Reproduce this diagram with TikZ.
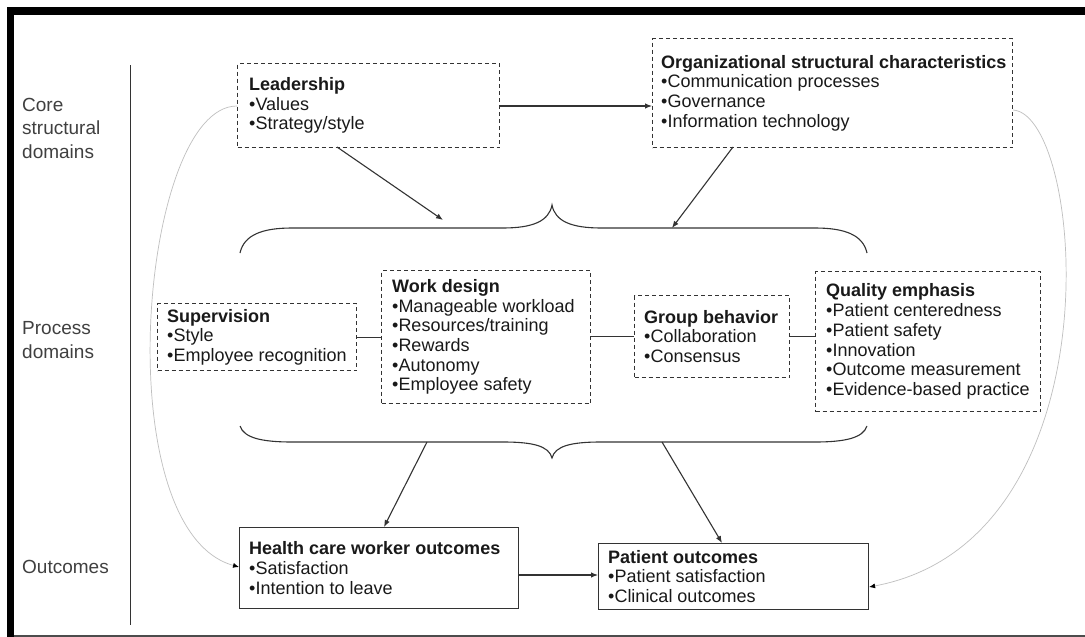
\documentclass[tikz,border=0pt]{standalone}
\usepackage{fontspec}
\setmainfont{Liberation Sans}
\usetikzlibrary{arrows.meta}
\begin{document}
\begin{tikzpicture}[x=1pt,y=-1pt,
  dbox/.style={draw=black!80, line width=1.1pt, dash pattern=on 4pt off 3pt, inner sep=0pt, anchor=north west},
  sbox/.style={dbox, solid},
  txt/.style={anchor=west, align=left, inner sep=0pt, text=black!90, font=\fontsize{18}{19.7}\selectfont},
  lbl/.style={anchor=west, align=left, text=black!75, font=\fontsize{19}{23.5}\selectfont, inner sep=0pt},
  conn/.style={draw=black!80, line width=1.1pt},
  arr/.style={conn, -{Latex[length=7pt,width=5.5pt]}},
  garr/.style={draw=black!25, line width=0.7pt, -{Latex[length=6pt,width=5pt,black]}}
]
\useasboundingbox (0,0) rectangle (1085,637);
\fill[white] (0,0) rectangle (1085,637);
% frame
\fill[black] (7,7) rectangle (1085,15);
\fill[black] (7,7) rectangle (14,637);
\draw[black!70, line width=1.5pt] (14,636) -- (1085,636);
% left labels
\node[lbl] (lcore) at (22,128) {Core\\structural\\domains};
\node[lbl] (lproc) at (22,340) {Process\\domains};
\node[lbl] (lout) at (22,567) {Outcomes};
\coordinate (vtop) at (130,65);
\coordinate (vbot) at (130,625);
\draw[black!80, line width=1pt] (vtop) -- (vbot);
% core boxes
\node[dbox, minimum width=262pt, minimum height=84pt] (lead) at (237,63) {};
\node[txt] (leadt) at ([xshift=12pt]lead.west) {\textbf{Leadership}\\•Values\\•Strategy/style};
\node[dbox, minimum width=360pt, minimum height=109pt] (org) at (652,38) {};
\node[txt] (orgt) at ([xshift=9pt]org.west) {\textbf{Organizational structural characteristics}\\•Communication processes\\•Governance\\•Information technology};
% process boxes
\node[dbox, minimum width=199pt, minimum height=67pt] (sup) at (157,303) {};
\node[txt] (supt) at ([xshift=10pt]sup.west) {\textbf{Supervision}\\•Style\\•Employee recognition};
\node[dbox, minimum width=209pt, minimum height=133pt] (work) at (381,270) {};
\node[txt] (workt) at ([xshift=11pt]work.west) {\textbf{Work design}\\•Manageable workload\\•Resources/training\\•Rewards\\•Autonomy\\•Employee safety};
\node[dbox, minimum width=155pt, minimum height=82pt] (group) at (634,295) {};
\node[txt] (groupt) at ([xshift=10pt]group.west) {\textbf{Group behavior}\\•Collaboration\\•Consensus};
\node[dbox, minimum width=225pt, minimum height=140pt] (qual) at (815,271) {};
\node[txt] (qualt) at ([xshift=11pt]qual.west) {\textbf{Quality emphasis}\\•Patient centeredness\\•Patient safety\\•Innovation\\•Outcome measurement\\•Evidence-based practice};
% outcome boxes
\node[sbox, minimum width=279pt, minimum height=81pt] (hcw) at (239,527) {};
\node[txt] (hcwt) at ([xshift=10pt]hcw.west) {\textbf{Health care worker outcomes}\\•Satisfaction\\•Intention to leave};
\node[sbox, minimum width=270pt, minimum height=66pt] (pat) at (598,543) {};
\node[txt] (patt) at ([xshift=10pt]pat.west) {\textbf{Patient outcomes}\\•Patient satisfaction\\•Clinical outcomes};
% braces
\coordinate (tb1) at (240,253);
\coordinate (tbtip) at (552,205);
\coordinate (tb2) at (867,253);
\draw[conn] (tb1) .. controls (244,235) and (262,228) .. (292,228) -- (503,228)
  .. controls (533,228) and (549,221) .. (tbtip)
  .. controls (555,221) and (571,228) .. (601,228) -- (815,228)
  .. controls (845,228) and (863,235) .. (tb2);
\coordinate (bb1) at (240,426);
\coordinate (bbtip) at (552,458);
\coordinate (bb2) at (867,426);
\draw[conn] (bb1) .. controls (244,438) and (262,442) .. (292,442) -- (503,442)
  .. controls (533,442) and (549,446) .. (bbtip)
  .. controls (555,446) and (571,442) .. (601,442) -- (815,442)
  .. controls (845,442) and (863,438) .. (bb2);
% arrows core
\draw[arr] (lead.east |- 0,106) -- (org.west |- 0,106);
\coordinate (lA) at (337,147);
\coordinate (lB) at (443,220);
\draw[arr] (lA) -- (lB);
\coordinate (oA) at (733,147);
\coordinate (oB) at (672,228);
\draw[arr] (oA) -- (oB);
% process connectors
\draw[conn] (sup.east) -- (sup.east -| work.west);
\draw[conn] (group.west -| work.east) -- (group.west);
\draw[conn] (group.east) -- (group.east -| qual.west);
% arrows to outcomes
\coordinate (bA) at (427,442);
\coordinate (bB) at (662,442);
\draw[arr] (bA) -- (384,527);
\draw[arr] (bB) -- (722,543);
\draw[arr] (hcw.east |- 0,575) -- (pat.west |- 0,575);
% gray curves
\draw[garr] (lead.west |- 0,106) .. controls (140,106) and (105,530) .. (hcw.west |- 0,567);
\draw[garr] (org.east |- 0,110) .. controls (1085,115) and (1120,540) .. (pat.east |- 0,587);
\end{tikzpicture}
\end{document}
